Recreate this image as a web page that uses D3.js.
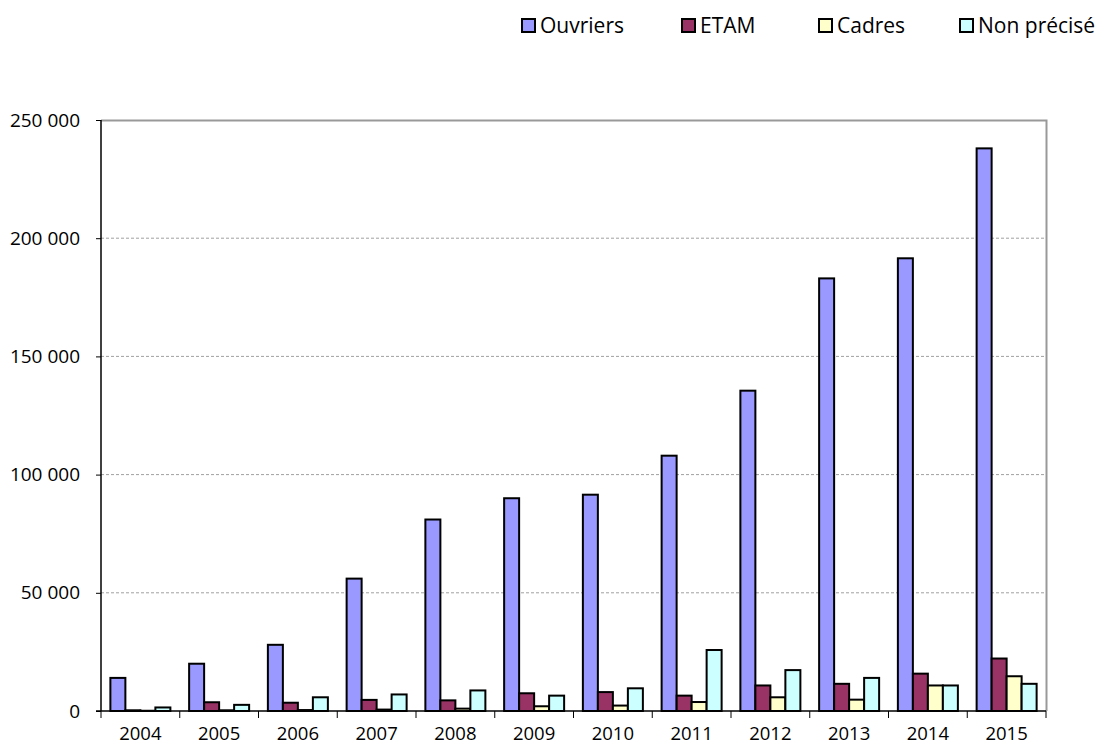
<!DOCTYPE html>
<html><head><meta charset="utf-8">
<script src="https://cdn.jsdelivr.net/npm/d3@7"></script>
<style>body{margin:0;background:#fff;} text{font-family:"Open Sans","Liberation Sans",sans-serif;}</style>
</head><body>
<svg id="c" width="1097" height="746"></svg>
<script>
const years = ["2004","2005","2006","2007","2008","2009","2010","2011","2012","2013","2014","2015"];
const seriesNames = ["Ouvriers","ETAM","Cadres","Non précisé"];
const ouvriers = [14000,20000,28000,56000,81000,90000,91500,108000,135500,183000,191500,238000];
const etam = [300,3700,3500,4700,4500,7500,8000,6500,10800,11500,15800,22200];
const cadres = [100,300,400,600,1000,2000,2300,3800,5800,4800,10800,14700];
const nonPrecise = [1500,2600,5800,7000,8700,6500,9600,25800,17300,14000,10800,11500];
const yTicks = [0,50000,100000,150000,200000,250000];
const colors = ["#9999FF","#993366","#FFFFCC","#CCFFFF"];

const data = [ouvriers, etam, cadres, nonPrecise];
const svg = d3.select("#c");
const L=101, R=1046, T=120, B=711;
const x = d3.scaleBand().domain(years).range([L,R]).paddingInner(0).paddingOuter(0);
const x1 = d3.scaleBand().domain(d3.range(4)).range([0, x.bandwidth()]).paddingInner(0).paddingOuter(0.625);
const y = d3.scaleLinear().domain([0,250000]).range([B,T]);
const fmt = v => d3.format(",")(v).replace(/,/g," ");

// gridlines
svg.append("g").selectAll("line").data(yTicks.filter(d=>d>0 && d<250000)).join("line")
  .attr("x1",L).attr("x2",R).attr("y1",d=>y(d)).attr("y2",d=>y(d))
  .attr("stroke","#a0a0a0").attr("stroke-dasharray","3,2").attr("stroke-width",1);
// border top/right
svg.append("path").attr("d",`M${L},${T+0.5}H${R+0.5}V${B}`).attr("fill","none").attr("stroke","#999").attr("stroke-width",2);

// bars
const groups = svg.append("g").selectAll("g").data(years).join("g")
  .attr("transform",d=>`translate(${x(d)},0)`);
groups.selectAll("rect").data((d,i)=>data.map((s,k)=>({k,v:s[i]}))).join("rect")
  .attr("x",d=>x1(d.k)).attr("width",x1.bandwidth())
  .attr("y",d=>y(d.v)).attr("height",d=>B-y(d.v))
  .attr("fill",d=>colors[d.k]).attr("stroke","#000").attr("stroke-width",2);

// y axis
const ya = d3.axisLeft(y).tickValues(yTicks).tickFormat(fmt).tickSize(5).tickPadding(16);
const gy = svg.append("g").attr("transform",`translate(${L},0)`).call(ya);
gy.select(".domain").attr("stroke","#000").attr("stroke-width",1.5).attr("d",`M0,${T}V${B}`);
gy.selectAll(".tick line").attr("stroke","#000");
gy.selectAll("text").attr("font-size",19).attr("fill","#000").attr("font-family",null);

// x axis
const gx = svg.append("g").attr("transform",`translate(0,${B})`);
gx.append("line").attr("x1",L-5).attr("x2",R).attr("y1",0).attr("y2",0).attr("stroke","#000").attr("stroke-width",1.5);
gx.selectAll(".tk").data(years.concat(["end"])).join("line")
  .attr("x1",(d,i)=>L+i*x.bandwidth()).attr("x2",(d,i)=>L+i*x.bandwidth())
  .attr("y1",0).attr("y2",7).attr("stroke","#000");
gx.selectAll("text").data(years).join("text")
  .attr("x",d=>x(d)+x.bandwidth()/2).attr("y",29).attr("text-anchor","middle")
  .attr("font-size",18.5).attr("fill","#000").text(d=>d);

// legend
const legX = [522,682,819,960];
const leg = svg.append("g").selectAll("g").data(seriesNames).join("g")
  .attr("transform",(d,i)=>`translate(${legX[i]},26)`);
leg.append("rect").attr("x",0).attr("y",-7).attr("width",13).attr("height",13)
  .attr("fill",(d,i)=>colors[i]).attr("stroke","#000").attr("stroke-width",2);
leg.append("text").attr("x",18).attr("y",7).attr("font-size",21).attr("fill","#000").text(d=>d);
</script>
</body></html>
